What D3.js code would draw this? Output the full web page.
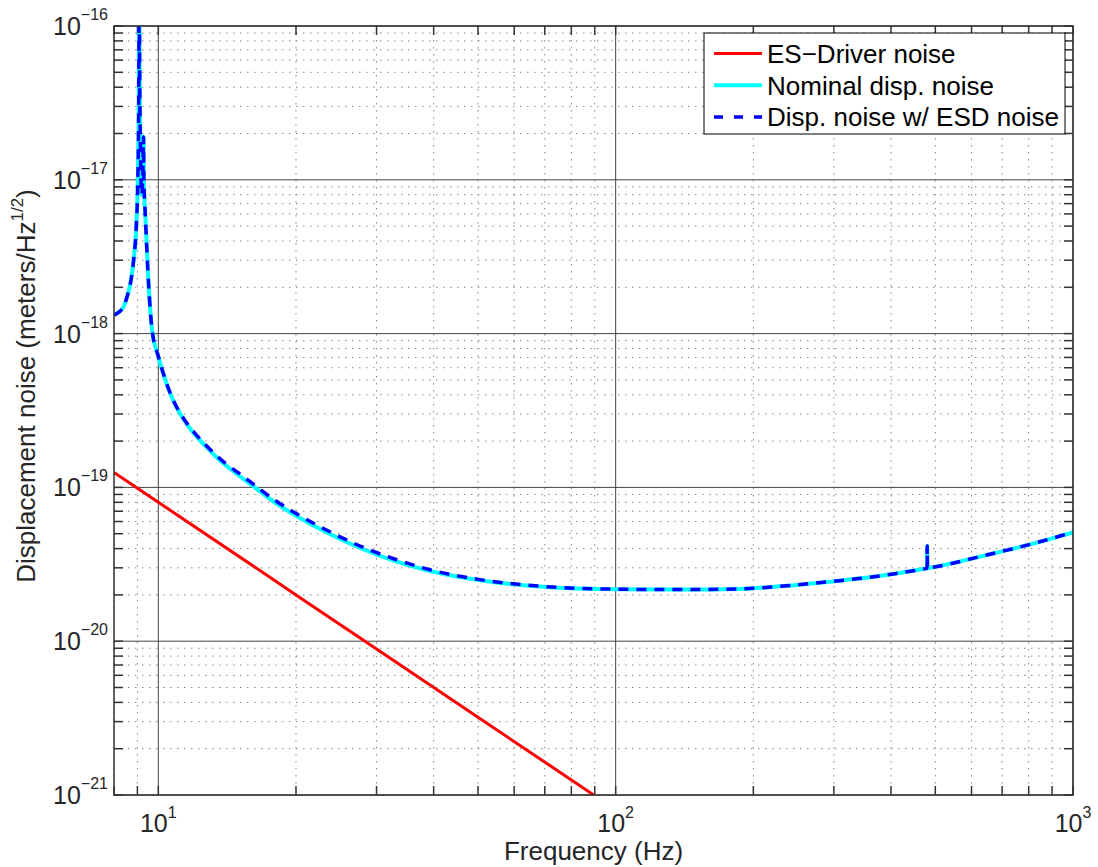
<!DOCTYPE html>
<html>
<head>
<meta charset="utf-8">
<script src="https://cdn.jsdelivr.net/npm/d3@7"></script>
<style>
  body { margin: 0; background: #fff; }
  svg { font-family: "Liberation Sans", Arial, Helvetica, sans-serif; }
</style>
</head>
<body>
<div id="chart"></div>
<script>
// tick values
const freqTicks = [10, 100, 1000];
const noiseTicks = [1e-21, 1e-20, 1e-19, 1e-18, 1e-17, 1e-16];

// ES-Driver noise
const esdFreq  = [8, 10, 17.7, 20, 30, 50, 88.7, 100];
const esdNoise = [1.25e-19, 8.0e-20, 2.56e-20, 2.0e-20, 8.9e-21, 3.2e-21, 1.02e-21, 8.0e-22];

// Nominal displacement noise
const nomFreq = [
  8, 8.2, 8.4, 8.55, 8.69, 8.83, 8.95, 9.02, 9.06, 9.085, 9.1, 9.14, 9.2, 9.25, 9.28, 9.3,
  9.37, 9.52, 9.69, 10, 10.45, 10.78, 11.17, 11.455, 11.746, 12.226, 12.776, 13.318, 14.004, 14.949,
  16.144, 18.0, 20.09, 22.58, 24.97, 27.61, 33.2, 39.92, 50.48, 70.61, 100, 138, 186.8,
  228.5, 293.9, 404.5, 470, 479.5, 480, 480.5, 490, 647.3, 805.3, 1000
];
const nomNoise = [
  1.32e-18, 1.38e-18, 1.5e-18, 1.75e-18, 2.12e-18, 3.0e-18, 5.0e-18, 1.0e-17, 3.0e-17, 3.0e-16, 6.0e-17, 1.6e-17, 8.0e-18, 1.1e-17, 1.9e-17, 1.0e-17,
  5.75e-18, 2.12e-18, 1.055e-18, 7.1e-19, 4.63e-19, 3.673e-19, 3.0e-19, 2.67e-19, 2.404e-19, 2.083e-19, 1.811e-19, 1.601e-19, 1.403e-19, 1.204e-19,
  1.014e-19, 7.954e-20, 6.496e-20, 5.365e-20, 4.619e-20, 4.036e-20, 3.293e-20, 2.826e-20, 2.492e-20, 2.254e-20, 2.176e-20, 2.166e-20, 2.188e-20,
  2.275e-20, 2.437e-20, 2.735e-20, 2.945e-20, 2.977e-20, 4.16e-20, 2.981e-20, 3.01e-20, 3.635e-20, 4.26e-20, 5.105e-20
];

// Displacement noise with ESD noise
const dispFreq = nomFreq;
const dispNoise = [
  1.32e-18, 1.38e-18, 1.5e-18, 1.75e-18, 2.12e-18, 3.0e-18, 5.0e-18, 1.0e-17, 3.0e-17, 3.0e-16, 6.0e-17, 1.6e-17, 8.0e-18, 1.1e-17, 1.9e-17, 1.0e-17,
  5.75e-18, 2.12e-18, 1.06e-18, 7.13e-19, 4.65e-19, 3.69e-19, 3.03e-19, 2.70e-19, 2.44e-19, 2.125e-19, 1.853e-19, 1.641e-19, 1.438e-19, 1.246e-19,
  1.049e-19, 8.23e-20, 6.72e-20, 5.55e-20, 4.77e-20, 4.16e-20, 3.385e-20, 2.877e-20, 2.514e-20, 2.263e-20, 2.18e-20, 2.166e-20, 2.188e-20,
  2.275e-20, 2.437e-20, 2.735e-20, 2.945e-20, 2.977e-20, 4.16e-20, 2.981e-20, 3.01e-20, 3.635e-20, 4.26e-20, 5.105e-20
];

const series = [
  { name: "ES\u2212Driver noise", color: "#ff0000", width: 3, dash: null, f: esdFreq, v: esdNoise, smooth: false },
  { name: "Nominal disp. noise", color: "#00ffff", width: 4, dash: null, f: nomFreq, v: nomNoise, smooth: true },
  { name: "Disp. noise w/ ESD noise", color: "#0000ff", width: 3.5, dash: "10,8", f: dispFreq, v: dispNoise, smooth: true }
];

// dimensions
const w = 1098, h = 867;
const padLeft = 114, padRight = 1073, padTop = 26, padBot = 795;
const axisColor = "#333";

const svg = d3.select("#chart").append("svg")
  .attr("width", w)
  .attr("height", h);

const x = d3.scaleLog().domain([8, 1000]).range([padLeft, padRight]);
const y = d3.scaleLog().domain([1e-21, 1e-16]).range([padBot, padTop]);

// minor / major tick values
const xAll = x.ticks(); // 8,9,10,20,...,1000
const yAll = y.ticks();
const isDecade = v => Math.abs(Math.log10(v) - Math.round(Math.log10(v))) < 1e-9;
const xMinor = xAll.filter(v => !isDecade(v));
const yMinor = yAll.filter(v => !isDecade(v));

// GRID
const grid = svg.append("g");
grid.selectAll(".xminor").data(xMinor).enter().append("line")
  .attr("x1", d => x(d)).attr("x2", d => x(d))
  .attr("y1", padTop).attr("y2", padBot)
  .attr("stroke", "#888").attr("stroke-width", 1).attr("stroke-dasharray", "1.5,5.5");
grid.selectAll(".yminor").data(yMinor).enter().append("line")
  .attr("y1", d => y(d)).attr("y2", d => y(d))
  .attr("x1", padLeft).attr("x2", padRight)
  .attr("stroke", "#888").attr("stroke-width", 1).attr("stroke-dasharray", "1.5,5.5");
grid.selectAll(".xmajor").data(freqTicks).enter().append("line")
  .attr("x1", d => x(d)).attr("x2", d => x(d))
  .attr("y1", padTop).attr("y2", padBot)
  .attr("stroke", "#444").attr("stroke-width", 1);
grid.selectAll(".ymajor").data(noiseTicks).enter().append("line")
  .attr("y1", d => y(d)).attr("y2", d => y(d))
  .attr("x1", padLeft).attr("x2", padRight)
  .attr("stroke", "#444").attr("stroke-width", 1);

// TICKS (inward, on all four sides)
const tickLen = 9;
const ticks = svg.append("g").attr("stroke", axisColor).attr("stroke-width", 1.5);
xAll.forEach(v => {
  ticks.append("line").attr("x1", x(v)).attr("x2", x(v)).attr("y1", padBot).attr("y2", padBot - tickLen);
  ticks.append("line").attr("x1", x(v)).attr("x2", x(v)).attr("y1", padTop).attr("y2", padTop + tickLen);
});
yAll.forEach(v => {
  ticks.append("line").attr("y1", y(v)).attr("y2", y(v)).attr("x1", padLeft).attr("x2", padLeft + tickLen);
  ticks.append("line").attr("y1", y(v)).attr("y2", y(v)).attr("x1", padRight).attr("x2", padRight - tickLen);
});

// CURVES
svg.append("clipPath").attr("id", "plotclip")
  .append("rect").attr("x", padLeft).attr("y", padTop).attr("width", padRight - padLeft).attr("height", padBot - padTop);
const curves = svg.append("g").attr("clip-path", "url(#plotclip)");
series.forEach(s => {
  const pts = s.f.map((f, i) => [f, s.v[i]]);
  const line = d3.line()
    .x(d => x(d[0]))
    .y(d => y(d[1]))
    .curve(s.smooth ? d3.curveMonotoneX : d3.curveLinear);
  curves.append("path")
    .datum(pts)
    .attr("d", line)
    .attr("fill", "none")
    .attr("stroke", s.color)
    .attr("stroke-width", s.width)
    .attr("stroke-dasharray", s.dash)
    .attr("stroke-linejoin", "round");
});

// FRAME
svg.append("rect")
  .attr("x", padLeft).attr("y", padTop).attr("width", padRight - padLeft).attr("height", padBot - padTop)
  .attr("fill", "none").attr("stroke", axisColor).attr("stroke-width", 1.5);

// TICK LABELS
const labelColor = "#262626";
freqTicks.forEach(v => {
  const t = svg.append("text")
    .attr("x", x(v)).attr("y", 832)
    .attr("text-anchor", "middle")
    .attr("fill", labelColor)
    .style("font-size", "25px");
  t.append("tspan").text("10");
  t.append("tspan").attr("dy", -14).style("font-size", "16px").text(Math.round(Math.log10(v)));
});
noiseTicks.forEach(v => {
  const t = svg.append("text")
    .attr("x", 108).attr("y", y(v) + 9)
    .attr("text-anchor", "end")
    .attr("fill", labelColor)
    .style("font-size", "25px");
  t.append("tspan").text("10");
  t.append("tspan").attr("dy", -15).style("font-size", "16px").text("\u2212" + Math.abs(Math.round(Math.log10(v))));
});

// AXIS LABELS
svg.append("text")
  .attr("x", (padLeft + padRight) / 2).attr("y", 860)
  .attr("text-anchor", "middle")
  .attr("fill", labelColor)
  .style("font-size", "26px")
  .text("Frequency (Hz)");

const ylab = svg.append("text")
  .attr("transform", `translate(35, 386) rotate(-90)`)
  .attr("text-anchor", "middle")
  .attr("fill", labelColor)
  .style("font-size", "26px");
ylab.append("tspan").text("Displacement noise (meters/Hz");
ylab.append("tspan").attr("dy", -12).style("font-size", "17px").text("1/2");
ylab.append("tspan").attr("dy", 12).text(")");

// LEGEND
const lg = svg.append("g");
lg.append("rect")
  .attr("x", 704).attr("y", 33).attr("width", 361).attr("height", 101)
  .attr("fill", "#fff").attr("stroke", "#000").attr("stroke-width", 1);
series.forEach((s, i) => {
  const ly = 53.5 + i * 31.7;
  lg.append("line")
    .attr("x1", 714).attr("x2", 762).attr("y1", ly).attr("y2", ly)
    .attr("stroke", s.color)
    .attr("stroke-width", s.width)
    .attr("stroke-dasharray", s.dash ? "9,11" : null);
  lg.append("text")
    .attr("x", 767).attr("y", ly + 9.5)
    .attr("fill", "#000")
    .style("font-size", "26px")
    .text(s.name);
});
</script>
</body>
</html>
